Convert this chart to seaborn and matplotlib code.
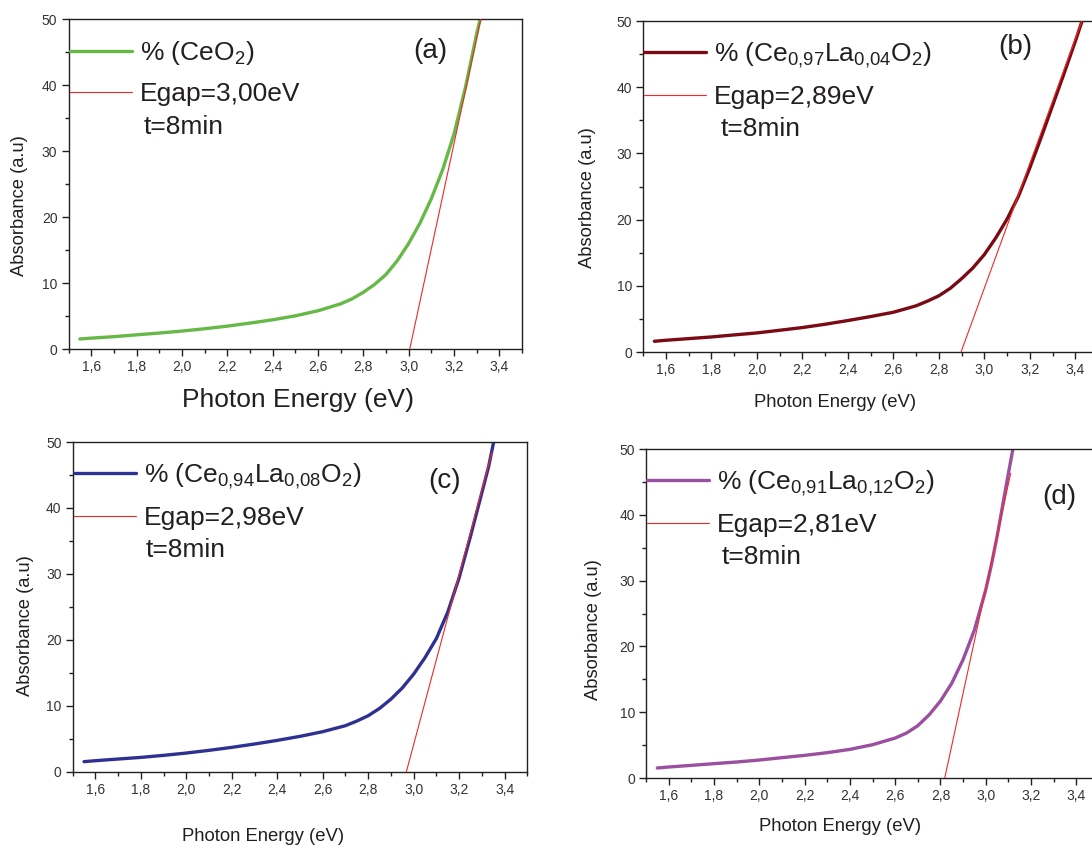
import numpy as np
import pandas as pd
import matplotlib
matplotlib.use("Agg")
import matplotlib.pyplot as plt
from matplotlib.lines import Line2D
from matplotlib.ticker import MultipleLocator, FuncFormatter
import seaborn as sns

# === data ===
energy_a = [1.55, 1.6, 1.7, 1.8, 1.9, 2.0, 2.1, 2.2, 2.3, 2.4, 2.5, 2.6, 2.7, 2.75, 2.8,
            2.85, 2.9, 2.95, 3.0, 3.05, 3.1, 3.15, 3.2, 3.25, 3.3, 3.315]
absorb_a = [1.52, 1.65, 1.87, 2.15, 2.42, 2.72, 3.07, 3.47, 3.93, 4.43, 5.03, 5.8, 6.85, 7.6, 8.6,
            9.8, 11.3, 13.4, 16.0, 19.1, 22.8, 27.2, 32.6, 39.6, 47.8, 50.0]

energy_b = [1.55, 1.6, 1.7, 1.8, 1.9, 2.0, 2.1, 2.2, 2.3, 2.4, 2.5, 2.6, 2.7, 2.75, 2.8,
            2.85, 2.9, 2.95, 3.0, 3.05, 3.1, 3.15, 3.2, 3.25, 3.3, 3.35, 3.4, 3.43]
absorb_b = [1.62, 1.77, 2.02, 2.27, 2.58, 2.88, 3.28, 3.69, 4.19, 4.75, 5.35, 6.0, 6.97, 7.68, 8.48,
            9.6, 11.06, 12.7, 14.7, 17.2, 20.05, 23.5, 27.8, 32.4, 37.2, 42.0, 46.9, 50.0]

energy_c = [1.55, 1.6, 1.7, 1.8, 1.9, 2.0, 2.1, 2.2, 2.3, 2.4, 2.5, 2.6, 2.7, 2.75, 2.8,
            2.85, 2.9, 2.95, 3.0, 3.05, 3.1, 3.15, 3.2, 3.25, 3.3, 3.33, 3.352]
absorb_c = [1.52, 1.67, 1.92, 2.17, 2.48, 2.83, 3.24, 3.69, 4.2, 4.75, 5.36, 6.07, 6.98, 7.68, 8.49,
            9.6, 11.0, 12.7, 14.8, 17.3, 20.2, 24.2, 29.4, 35.7, 42.3, 46.3, 50.0]

energy_d = [1.55, 1.6, 1.7, 1.8, 1.9, 2.0, 2.1, 2.2, 2.3, 2.4, 2.5, 2.6, 2.65, 2.7, 2.75,
            2.8, 2.85, 2.9, 2.95, 3.0, 3.025, 3.05, 3.075, 3.1, 3.12]
absorb_d = [1.52, 1.67, 1.92, 2.18, 2.43, 2.73, 3.09, 3.44, 3.85, 4.35, 5.06, 6.07, 6.83, 7.95, 9.6,
            11.7, 14.4, 18.0, 22.5, 28.6, 32.4, 36.7, 41.5, 46.3, 50.0]

# tangent lines (Egap intercept -> upper end)
fit_x_a, fit_y_a = [3.005, 3.318], [0, 50]
fit_x_b, fit_y_b = [2.898, 3.429], [0, 50]
fit_x_c, fit_y_c = [2.968, 3.345], [0, 48.5]
fit_x_d, fit_y_d = [2.819, 3.11], [0, 46.3]

labels = [r"% (CeO$_{\mathregular{2}}$)",
          r"% (Ce$_{\mathregular{0{,}97}}$La$_{\mathregular{0{,}04}}$O$_{\mathregular{2}}$)",
          r"% (Ce$_{\mathregular{0{,}94}}$La$_{\mathregular{0{,}08}}$O$_{\mathregular{2}}$)",
          r"% (Ce$_{\mathregular{0{,}91}}$La$_{\mathregular{0{,}12}}$O$_{\mathregular{2}}$)"]
egaps = ["Egap=3,00eV", "Egap=2,89eV", "Egap=2,98eV", "Egap=2,81eV"]
letters = ["(a)", "(b)", "(c)", "(d)"]
colors = ["#66b947", "#7a0a14", "#2e3192", "#9b4f9f"]
red = "#f02828"

sns.set_theme(style="ticks")
plt.rcParams["font.family"] = ["Liberation Sans", "DejaVu Sans"]
plt.rcParams["mathtext.fontset"] = "custom"
plt.rcParams["mathtext.rm"] = "Liberation Sans"
plt.rcParams["mathtext.it"] = "Liberation Sans"

W, H = 1092, 846
fig = plt.figure(figsize=(W / 100, H / 100), dpi=100)

# pixel boxes: left, right, top, bottom
boxes = [(68.5, 522, 19.5, 349), (643, 1098, 21, 352), (72.7, 527.3, 442, 771.7), (646, 1099, 449, 778)]
curves = [(energy_a, absorb_a, fit_x_a, fit_y_a), (energy_b, absorb_b, fit_x_b, fit_y_b),
          (energy_c, absorb_c, fit_x_c, fit_y_c), (energy_d, absorb_d, fit_x_d, fit_y_d)]
xlab_pos = [(0.506, -0.155), (0.422, -0.154), (0.419, -0.198), (0.428, -0.148)]
xlab_size = [19, 13.3, 13.3, 13.3]
ylab_pos = [(-0.109, 0.434), (-0.121, 0.468), (-0.104, 0.444), (-0.115, 0.45)]
letter_pos = [(0.797, 0.905), (0.818, 0.922), (0.818, 0.882), (0.912, 0.855)]
time_x = [0.166, 0.171, 0.161, 0.168]

for i in range(4):
    l, r, t, b = boxes[i]
    ax = fig.add_axes([l / W, (H - b) / H, (r - l) / W, (b - t) / H])
    ex, ab, fx, fy = curves[i]
    df = pd.DataFrame({"E": ex, "A": ab})
    fit = pd.DataFrame({"E": fx, "A": fy})
    sns.lineplot(data=df, x="E", y="A", ax=ax, color=colors[i], lw=2.4, zorder=2)
    sns.lineplot(data=fit, x="E", y="A", ax=ax, color=red, lw=0.8, zorder=3)
    ax.set_xlim(1.5, 3.5)
    ax.set_ylim(0, 50)
    ax.xaxis.set_major_locator(MultipleLocator(0.2))
    ax.xaxis.set_minor_locator(MultipleLocator(0.1))
    ax.yaxis.set_major_locator(MultipleLocator(10))
    ax.yaxis.set_minor_locator(MultipleLocator(5))
    ax.xaxis.set_major_formatter(FuncFormatter(lambda v, p: f"{v:.1f}".replace(".", ",")))
    ax.tick_params(which="both", direction="out", colors="#231f20", labelcolor="#333333",
                   labelsize=10, width=1)
    ax.tick_params(which="major", length=5, pad=3)
    ax.tick_params(which="minor", length=3)
    for s in ax.spines.values():
        s.set_color("#231f20")
        s.set_linewidth(1)

    ax.set_xlabel("Photon Energy (eV)", fontsize=xlab_size[i], color="#231f20")
    ax.xaxis.set_label_coords(*xlab_pos[i])
    ax.xaxis.label.set_va("center")
    ax.set_ylabel("Absorbance (a.u)", fontsize=13.2, color="#231f20")
    ax.yaxis.set_label_coords(*ylab_pos[i])
    ax.yaxis.label.set_va("center")

    handles = [Line2D([], [], color=colors[i], lw=2.4),
               Line2D([], [], color=red, lw=0.8)]
    ax.legend(handles, [labels[i], egaps[i]], loc="upper left",
              bbox_to_anchor=(0.003, 0.94), frameon=False, fontsize=19,
              handlelength=2.35, handletextpad=0.3, labelspacing=0.56,
              borderaxespad=0, borderpad=0, labelcolor="#231f20")
    # third legend line (no handle)
    ax.text(time_x[i], 1 - 107.5 / (b - t), "t=8min", transform=ax.transAxes,
            fontsize=19, ha="left", va="center", color="#231f20")
    ax.text(letter_pos[i][0], letter_pos[i][1], letters[i], transform=ax.transAxes,
            fontsize=20, ha="center", va="center", color="#231f20")

fig.savefig("out.png", dpi=100)
